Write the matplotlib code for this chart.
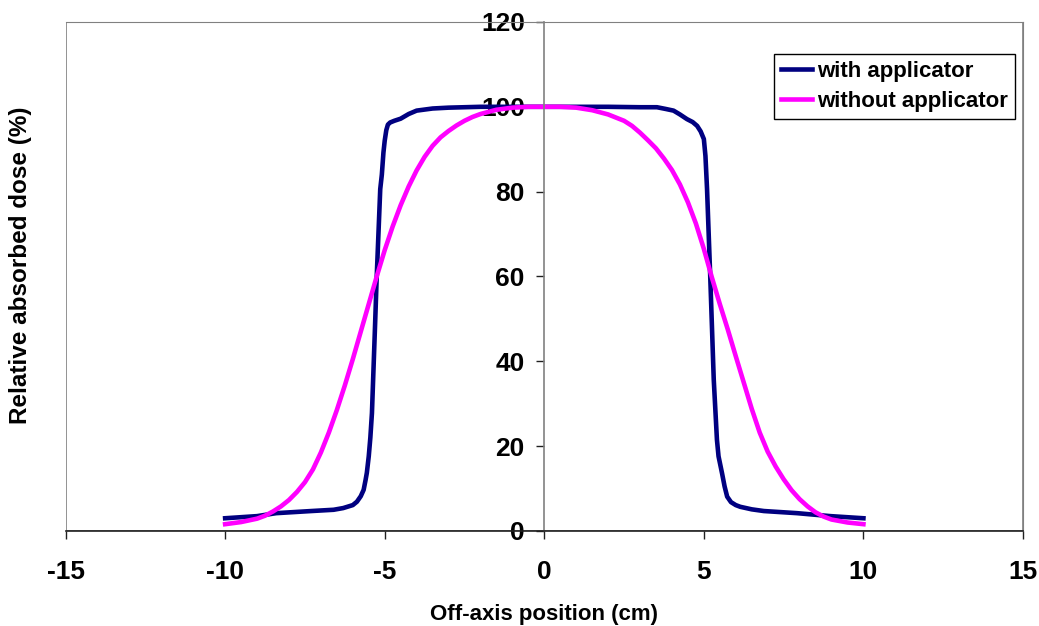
import matplotlib
matplotlib.use("Agg")
import matplotlib.pyplot as plt
from matplotlib.patches import Rectangle

plt.rcParams['font.family'] = ['Liberation Sans', 'DejaVu Sans']
plt.rcParams['font.weight'] = 'bold'
plt.rcParams['axes.unicode_minus'] = False

# Data
x_with = [-10, -9, -8.4, -7.3, -6.6, -6.3, -6.0, -5.87, -5.75, -5.66, -5.6, -5.56,
          -5.5, -5.45, -5.4, -5.3, -5.25, -5.14, -5.09, -5.04, -5.0, -4.95, -4.9,
          -4.83, -4.7, -4.5, -4.25, -4.0, -3.5, -3.0, -2.0, 0,
          2.0, 3.0, 3.53, 3.8, 4.05, 4.25, 4.47, 4.65, 4.79, 4.9, 5.0, 5.05, 5.1,
          5.2, 5.31, 5.41, 5.46, 5.57, 5.65, 5.73, 5.85, 6.0, 6.14, 6.5, 6.88,
          7.92, 8.97, 10]
y_with = [3.0, 3.5, 4.2, 4.7, 5.0, 5.4, 6.1, 6.9, 8.2, 9.7, 12.0, 13.7,
          17.6, 22.0, 27.8, 49.0, 60.0, 80.6, 84.0, 89.2, 92.0, 94.5, 95.8,
          96.3, 96.7, 97.2, 98.3, 99.1, 99.6, 99.8, 100.0, 100.0,
          100.0, 99.9, 99.9, 99.5, 99.1, 98.2, 97.1, 96.4, 95.5, 94.2, 92.4, 88.4, 80.6,
          60.0, 35.7, 21.5, 17.6, 13.6, 10.5, 8.1, 6.8, 6.1, 5.7, 5.1, 4.7,
          4.2, 3.5, 3.0]

x_without = [-10, -9.5, -9, -8.75, -8.5, -8.25, -8, -7.75, -7.5, -7.25, -7, -6.75,
             -6.5, -6.25, -6, -5.75, -5.5, -5.25, -5, -4.75, -4.5, -4.25, -4,
             -3.75, -3.5, -3.25, -3, -2.75, -2.5, -2.25, -2, -1.5, -1, -0.5, 0,
             0.5, 1, 1.5, 2, 2.5, 2.75, 3, 3.25, 3.5, 3.75, 4, 4.25, 4.5, 4.75,
             5, 5.25, 5.5, 5.75, 6, 6.25, 6.5, 6.75, 7, 7.25, 7.5, 7.75, 8,
             8.25, 8.5, 8.75, 9, 9.5, 10]
y_without = [1.6, 2.1, 2.9, 3.6, 4.6, 5.8, 7.3, 9.2, 11.5, 14.5, 18.5, 23.2,
             28.5, 34.3, 40.5, 47.0, 53.5, 60.0, 66.2, 71.8, 76.8, 81.2, 85.0,
             88.2, 90.8, 92.8, 94.3, 95.6, 96.7, 97.6, 98.3, 99.3, 99.8, 100.0, 100.0,
             100.0, 99.8, 99.2, 98.2, 96.7, 95.5, 93.9, 92.1, 90.2, 87.8, 85.1, 81.7, 77.5, 72.5,
             66.5, 59.8, 53.5, 47.5, 41.2, 35.0, 28.8, 23.2, 18.7, 15.2, 12.2, 9.6, 7.5,
             5.8, 4.4, 3.4, 2.7, 2.0, 1.6]

x_ticks = [-15, -10, -5, 0, 5, 10, 15]
y_ticks = [0, 20, 40, 60, 80, 100, 120]

fig = plt.figure(figsize=(10.39, 6.26), dpi=100)
ax = fig.add_axes([0.0631, 0.1518, 0.9215, 0.8131])

ax.plot(x_with, y_with, color='#000080', lw=3.3, label='with applicator')
ax.plot(x_without, y_without, color='#FF00FF', lw=3.3, label='without applicator')

ax.set_xlim(-15, 15)
ax.set_ylim(0, 120)
ax.set_xticks(x_ticks)
ax.set_yticks(y_ticks)

# spines
ax.spines['left'].set_position(('data', 0))
ax.spines['left'].set_color('#808080')
ax.spines['left'].set_linewidth(1.2)
ax.spines['bottom'].set_color('#202020')
ax.spines['bottom'].set_linewidth(1.2)
ax.spines['right'].set_color('#808080')
ax.spines['top'].set_color('#808080')
ax.add_patch(Rectangle((0, 0), 1, 1, transform=ax.transAxes, fill=False,
                       edgecolor='#808080', lw=1.2, zorder=0.5))

ax.tick_params(axis='x', direction='out', length=6, width=1, color='#202020',
               labelsize=19, pad=15)
ax.tick_params(axis='y', direction='out', length=6, width=1, color='#202020',
               labelsize=19, pad=8)
for lbl in ax.get_xticklabels() + ax.get_yticklabels():
    lbl.set_fontweight('bold')

ax.set_xlabel('Off-axis position (cm)', fontsize=16, fontweight='bold', labelpad=14)
fig.text(0.02, 0.577, 'Relative absorbed dose (%)', rotation=90, fontsize=17.5,
         fontweight='bold', ha='center', va='center')

leg = ax.legend(loc='upper right', bbox_to_anchor=(0.9916, 0.937), borderaxespad=0,
                fancybox=False, framealpha=1, edgecolor='black',
                prop={'size': 16, 'weight': 'bold'}, handlelength=1.4,
                handletextpad=0.25, borderpad=0.3, labelspacing=0.42)
leg.get_frame().set_linewidth(1.0)

fig.savefig('out.png', dpi=100)
